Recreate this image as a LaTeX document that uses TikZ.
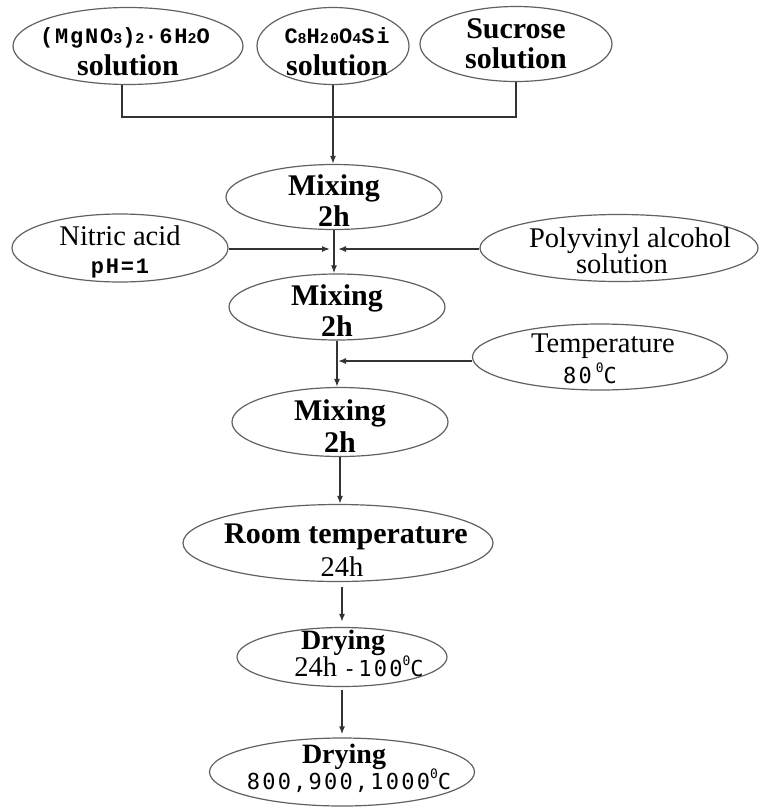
\documentclass[tikz,border=0pt]{standalone}
\usepackage{fontspec}
\setmainfont{Liberation Serif}
\newfontfamily\cmono[LetterSpace=8]{Liberation Mono}
\newfontfamily\lmono[LetterSpace=10]{DejaVu Sans Mono}
\usetikzlibrary{shapes.geometric,arrows.meta}
\newcommand\tline[3]{\raisebox{-#1pt}[0pt][0pt]{\makebox[0pt]{\kern#2pt\relax #3}}}
\newcommand\sm[1]{{\fontsize{15}{15}\selectfont #1}}
\newcommand\dg{\raisebox{0.5em}{\fontsize{13}{13}\selectfont 0}}
\newcommand\fB{\fontsize{30}{30}\selectfont\bfseries}
\newcommand\fD{\fontsize{28}{28}\selectfont\bfseries}
\newcommand\fR{\fontsize{28.5}{28.5}\selectfont}
\newcommand\fF{\fontsize{22}{22}\selectfont\cmono\bfseries}
\newcommand\fL{\fontsize{22}{22}\selectfont\lmono\mdseries}
\begin{document}
\begin{tikzpicture}[x=1pt,y=-1pt,
  ell/.style={ellipse, draw=black!62, line width=1.2pt, inner sep=0pt},
  conn/.style={draw=black!80, line width=1.5pt},
  arr/.style={conn, -{Latex[length=8pt,width=6pt]}}]
\useasboundingbox[fill=white] (0,0) rectangle (760,807);

% top inputs
\node[ell, minimum width=230pt, minimum height=77pt] (e1) at (128,46)
  {\tline{-3}{-6}{\fF (MgNO\sm{3})\sm{2}·6H\sm{2}O}\tline{29}{0}{\fB solution}};
\node[ell, minimum width=152pt, minimum height=77pt] (e2) at (333,46)
  {\tline{-3}{8}{\fF C\sm{8}H\sm{20}O\sm{4}Si}\tline{29}{8}{\fB solution}};
\node[ell, minimum width=192pt, minimum height=75pt] (e3) at (516,44)
  {\tline{-6}{0}{\fB Sucrose}\tline{24}{0}{\fB solution}};

% main chain
\node[ell, minimum width=216pt, minimum height=65pt] (m1) at (334,197)
  {\tline{-2}{0}{\fB Mixing}\tline{29}{0}{\fB 2h}};
\node[ell, minimum width=216pt, minimum height=66pt] (m2) at (337,307)
  {\tline{-2}{0}{\fB Mixing}\tline{29}{0}{\fB 2h}};
\node[ell, minimum width=216pt, minimum height=69pt] (m3) at (340,422)
  {\tline{-2}{0}{\fB Mixing}\tline{30}{0}{\fB 2h}};
\node[ell, minimum width=310pt, minimum height=77pt] (r) at (338,543)
  {\tline{0}{16}{\fB Room temperature}\tline{33}{8}{\fR 24h}};
\node[ell, minimum width=210pt, minimum height=59pt] (d1) at (342,657)
  {\tline{-8}{2}{\fD Drying}\tline{19}{34}{\fR 24h\hspace{6pt}{\fL -100\dg C}}};
\node[ell, minimum width=265pt, minimum height=68pt] (d2) at (342,772)
  {\tline{-9}{4}{\fD Drying}\tline{17}{14}{\fL 800,900,1000\dg C}};

% side inputs
\node[ell, minimum width=216pt, minimum height=68pt] (n) at (120,248)
  {\tline{-3}{0}{\fR Nitric acid}\tline{25}{0}{\fF pH=1}};
\node[ell, minimum width=278pt, minimum height=67pt] (p) at (619,248)
  {\tline{-1}{22}{\fR Polyvinyl alcohol}\tline{25}{6}{\fR solution}};
\node[ell, minimum width=255pt, minimum height=66pt] (t) at (600,357)
  {\tline{-5}{6}{\fR Temperature}\tline{26}{-20}{\fL 80\hspace{4pt}\dg C}};

% connectors
\coordinate (jt) at (333,117);
\coordinate (nl) at (330,249);
\coordinate (pr) at (338,249);
\coordinate (tr) at (338,361);

\draw[conn] ([xshift=-6pt]e1.south) |- (jt) -| (e3.south);
\draw[arr] (e2.south) -- (e2.south |- m1.north);
\draw[arr] (m1.south) -- (m1.south |- m2.north);
\draw[arr] (n.east |- nl) -- (nl);
\draw[arr] (p.west |- pr) -- (pr);
\draw[arr] (m2.south) -- (m2.south |- m3.north);
\draw[arr] (t.west |- tr) -- (tr);
\draw[arr] (m3.south) -- (m3.south |- r.north);
\draw[arr, shorten <=5pt, shorten >=5pt] (d1.north |- r.south) -- (d1.north);
\draw[arr, shorten <=3pt, shorten >=3pt] (d1.south) -- (d1.south |- d2.north);
\end{tikzpicture}
\end{document}
